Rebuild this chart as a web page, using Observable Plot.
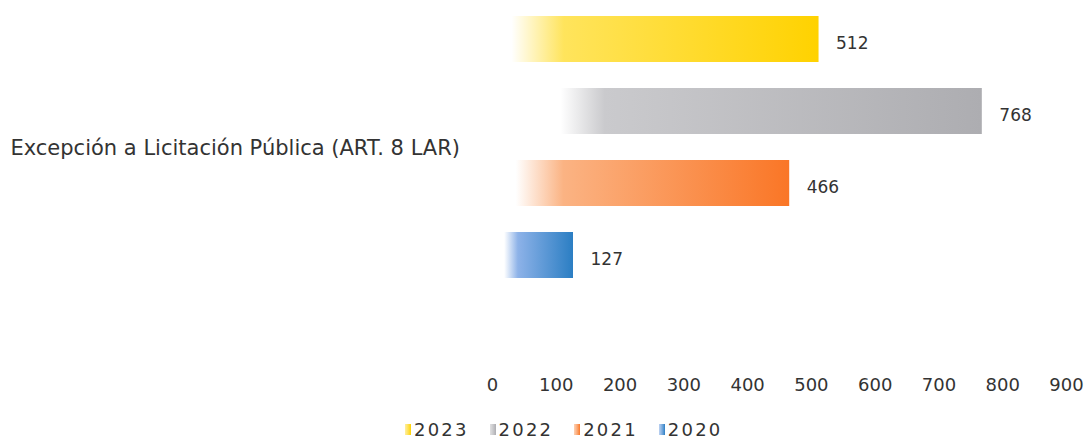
<!DOCTYPE html>
<html><head><meta charset="utf-8">
<script src="https://cdn.jsdelivr.net/npm/d3@7"></script>
<script src="https://cdn.jsdelivr.net/npm/@observablehq/plot@0.6"></script>
<style>
body{margin:0;background:#fff;font-family:"DejaVu Sans",sans-serif;overflow:hidden;}
#legend{margin-left:405px;}
.lg-swatches{min-height:28px !important;margin:0 !important;}
.lg-swatch{margin-right:21px !important;}
.lg-swatch > svg{margin-right:3px !important;}
</style>
</head><body><div id="chart"></div><div id="legend"></div>
<script>
const categories = ["Excepción a Licitación Pública (ART. 8 LAR)"];
const years = ["2023", "2022", "2021", "2020"];
const values = [512, 768, 466, 127];
const xTicks = [0, 100, 200, 300, 400, 500, 600, 700, 800, 900];

const data = years.map((y, i) => ({category: categories[0], year: y, value: values[i]}));

// gradient styling per year (fade-in from the left, like the reference)
const gradStyle = {
  "2023": {light: "#FFE45C", dark: "#FFD200", fade0: 0.06, fade1: 0.22},
  "2022": {light: "#CACACD", dark: "#ADADB1", fade0: 0.14, fade1: 0.23},
  "2021": {light: "#FBB383", dark: "#FA7626", fade0: 0.08, fade1: 0.24},
  "2020": {light: "#8DB2E8", dark: "#2B7EC3", fade0: 0.15, fade1: 0.32}
};

function defsMark() {
  const defs = d3.create("svg:defs");
  for (const y of years) {
    const s = gradStyle[y];
    const g = defs.append("linearGradient").attr("id", "bar-" + y)
      .attr("x1", "0").attr("x2", "1").attr("y1", "0").attr("y2", "0");
    g.append("stop").attr("offset", 0).attr("stop-color", s.light).attr("stop-opacity", 0);
    g.append("stop").attr("offset", s.fade0).attr("stop-color", s.light).attr("stop-opacity", 0);
    g.append("stop").attr("offset", s.fade1).attr("stop-color", s.light).attr("stop-opacity", 1);
    g.append("stop").attr("offset", 1).attr("stop-color", s.dark).attr("stop-opacity", 1);
    const sw = defs.append("linearGradient").attr("id", "sw-" + y)
      .attr("x1", "0").attr("x2", "1").attr("y1", "0").attr("y2", "0");
    sw.append("stop").attr("offset", 0).attr("stop-color", s.light).attr("stop-opacity", 0.6);
    sw.append("stop").attr("offset", 1).attr("stop-color", s.dark);
  }
  return defs.node();
}

const chart = Plot.plot({
  width: 1089,
  height: 415,
  marginLeft: 492,
  marginRight: 23,
  marginTop: 0,
  marginBottom: 42,
  style: {fontFamily: "DejaVu Sans, sans-serif", color: "#333", background: "#fff", overflow: "visible"},
  x: {domain: [0, 900], axis: null},
  y: {domain: years, range: [15, 279], paddingInner: 0.365, paddingOuter: 0, axis: null},
  color: {type: "ordinal", domain: years, range: years.map(y => `url(#bar-${y})`)},
  marks: [
    defsMark,
    Plot.barX(data, {x: "value", y: "year", fill: "year"}),
    Plot.text(data, {x: "value", y: "year", text: d => String(d.value), dx: 17, dy: 4,
      textAnchor: "start", fontSize: 17, fill: "#333", letterSpacing: 1.8}),
    Plot.text(categories, {frameAnchor: "top-left", dx: -482, dy: 148, textAnchor: "start",
      lineAnchor: "middle", fontSize: 21, fill: "#333", letterSpacing: 1.6}),
    Plot.axisX({ticks: xTicks, tickSize: 0, tickPadding: 5, fontSize: 18, label: null,
      fill: "#333", letterSpacing: 2.6})
  ]
});
document.getElementById("chart").append(chart);

const legend = Plot.legend({
  color: {type: "ordinal", domain: years, range: years.map(y => `url(#sw-${y})`)},
  swatchWidth: 6, swatchHeight: 11, className: "lg",
  style: {fontSize: "18px", color: "#333", fontFamily: "DejaVu Sans, sans-serif", letterSpacing: "2.2px"}
});
document.getElementById("legend").append(legend);
</script></body></html>
